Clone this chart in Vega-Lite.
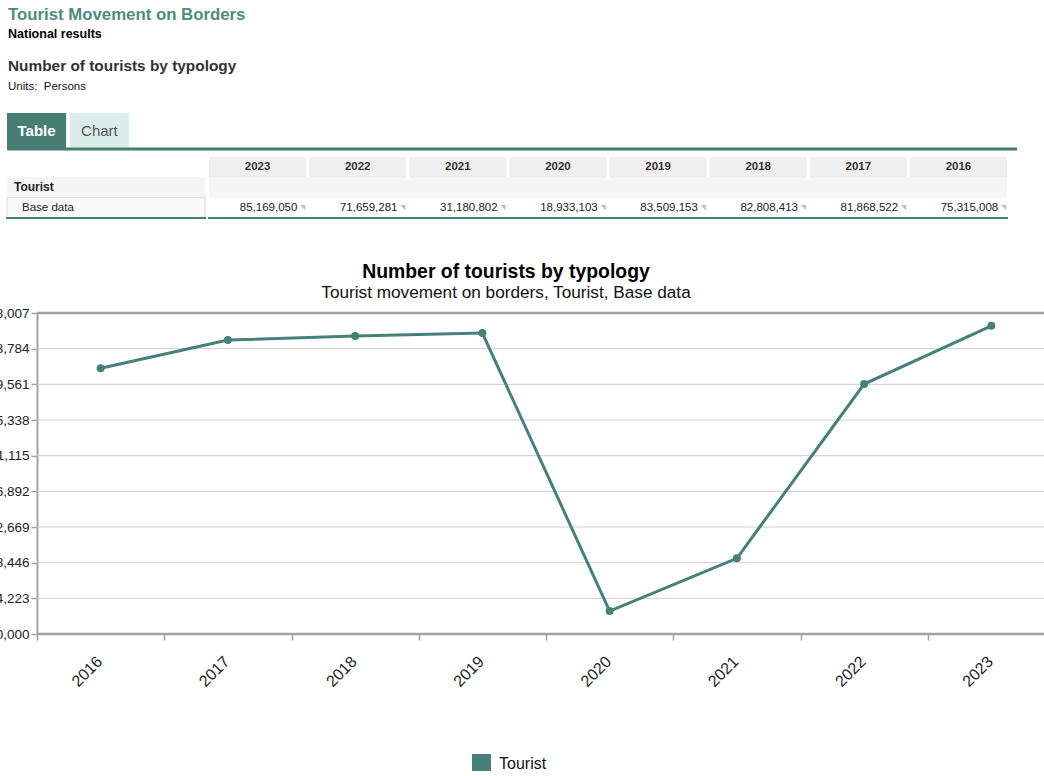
{
  "$schema": "https://vega.github.io/schema/vega-lite/v6.json",
  "background": "#ffffff",
  "padding": {"left": -39, "top": 6, "right": -11, "bottom": -2},
  "spacing": 6,
  "resolve": {"scale": {"color": "independent"}, "legend": {"color": "independent"}},
  "config": {
    "font": "Liberation Sans",
    "view": {"stroke": null},
    "axisY": {"labelOverlap": false}
  },
  "title": {
    "text": "Tourist Movement on Borders",
    "subtitle": "National results",
    "anchor": "start",
    "frame": "group",
    "dx": 1,
    "fontSize": 16.8,
    "fontWeight": "bold",
    "color": "#4d8c82",
    "subtitleFontSize": 12.5,
    "subtitleFontWeight": "bold",
    "subtitleColor": "#000000",
    "subtitlePadding": 4,
    "offset": 19
  },
  "datasets": {
    "tourists": [
      {"year": "2016", "series": "Tourist", "measure": "Base data", "persons": 75315008},
      {"year": "2017", "series": "Tourist", "measure": "Base data", "persons": 81868522},
      {"year": "2018", "series": "Tourist", "measure": "Base data", "persons": 82808413},
      {"year": "2019", "series": "Tourist", "measure": "Base data", "persons": 83509153},
      {"year": "2020", "series": "Tourist", "measure": "Base data", "persons": 18933103},
      {"year": "2021", "series": "Tourist", "measure": "Base data", "persons": 31180802},
      {"year": "2022", "series": "Tourist", "measure": "Base data", "persons": 71659281},
      {"year": "2023", "series": "Tourist", "measure": "Base data", "persons": 85169050}
    ],
    "tabs": [
      {"tab": "Table", "state": "active"},
      {"tab": "Chart", "state": "inactive"}
    ],
    "gridTicks": [
      {"tick": 13600000}, {"tick": 21884223}, {"tick": 30168446}, {"tick": 38452669},
      {"tick": 46736892}, {"tick": 55021115}, {"tick": 63305338}, {"tick": 71589561},
      {"tick": 79873784}, {"tick": 88158007}
    ]
  },
  "vconcat": [
    {
      "title": {
        "text": "Number of tourists by typology",
        "subtitle": "Units:\u00a0 Persons",
        "anchor": "start",
        "frame": "group",
        "dx": 1,
        "fontSize": 15.4,
        "fontWeight": "bold",
        "color": "#333333",
        "subtitleFontSize": 11.5,
        "subtitleColor": "#111111",
        "subtitlePadding": 6,
        "offset": 21
      },
      "width": 1010,
      "height": 36,
      "data": {"name": "tabs"},
      "encoding": {
        "x": {
          "field": "tab", "type": "nominal", "sort": null, "title": null,
          "scale": {"type": "band", "domain": ["Table", "Chart"], "rangeMax": 122, "paddingInner": 0.06, "paddingOuter": 0},
          "axis": null
        }
      },
      "layer": [
        {
          "transform": [{"filter": "datum.state === 'active'"}],
          "mark": {"type": "rect", "color": "#457d73"}
        },
        {
          "transform": [{"filter": "datum.state === 'inactive'"}],
          "mark": {"type": "rect", "color": "#dcecea"}
        },
        {
          "transform": [{"filter": "datum.state === 'active'"}],
          "mark": {"type": "text", "fontSize": 15, "fontWeight": "bold", "color": "#ffffff"},
          "encoding": {"text": {"field": "tab"}}
        },
        {
          "transform": [{"filter": "datum.state === 'inactive'"}],
          "mark": {"type": "text", "fontSize": 15, "color": "#555555"},
          "encoding": {"text": {"field": "tab"}}
        },
        {
          "transform": [{"filter": "datum.state === 'active'"}],
          "mark": {"type": "rule", "color": "#457d73", "strokeWidth": 3},
          "encoding": {
            "x": null,
            "y": {"datum": 0, "type": "quantitative", "scale": {"domain": [0, 1]}, "axis": null}
          }
        }
      ]
    },
    {
      "spacing": 0,
      "hconcat": [
        {
          "width": 198,
          "height": 99,
          "data": {"name": "tourists"},
          "transform": [{"aggregate": [{"op": "count", "as": "years"}], "groupby": ["series", "measure"]}],
          "layer": [
            {
              "mark": {"type": "rect", "color": "#f5f5f5"},
              "encoding": {
                "y": {
                  "datum": "group", "type": "nominal",
                  "scale": {"type": "band", "domain": ["header", "group", "item"], "paddingInner": 0, "paddingOuter": 0.935, "align": 0},
                  "axis": null
                }
              }
            },
            {
              "mark": {"type": "rect", "fill": "#fafafa", "stroke": "#d9d9d9", "strokeWidth": 1},
              "encoding": {"y": {"datum": "item", "type": "nominal"}}
            },
            {
              "mark": {"type": "text", "align": "left", "fontSize": 12, "fontWeight": "bold", "color": "#222222", "dx": 7},
              "encoding": {
                "x": {"datum": 0, "type": "quantitative", "scale": {"domain": [0, 1]}, "axis": null},
                "y": {"datum": "group", "type": "nominal"},
                "text": {"field": "series"}
              }
            },
            {
              "mark": {"type": "text", "align": "left", "fontSize": 11.5, "color": "#222222", "dx": 15},
              "encoding": {
                "x": {"datum": 0, "type": "quantitative"},
                "y": {"datum": "item", "type": "nominal"},
                "text": {"field": "measure"}
              }
            },
            {
              "mark": {"type": "rule", "color": "#457d73", "strokeWidth": 2, "strokeCap": "square"},
              "encoding": {"y": {"datum": "item", "type": "nominal", "bandPosition": 1}}
            }
          ]
        },
        {
          "width": 798,
          "height": 99,
          "data": {"name": "tourists"},
          "layer": [
            {
              "transform": [{"aggregate": [{"op": "count", "as": "years"}], "groupby": ["series"]}],
              "mark": {"type": "rect", "color": "#f5f5f5"},
              "encoding": {
                "y": {
                  "datum": "group", "type": "nominal",
                  "scale": {"type": "band", "domain": ["header", "group", "item"], "paddingInner": 0, "paddingOuter": 0.935, "align": 0},
                  "axis": null
                }
              }
            },
            {
              "mark": {"type": "rect", "color": "#efefef"},
              "encoding": {
                "x": {
                  "field": "year", "type": "ordinal", "sort": "descending",
                  "scale": {"type": "band", "paddingInner": 0.03, "paddingOuter": 0},
                  "axis": null
                },
                "y": {"datum": "header", "type": "nominal"}
              }
            },
            {
              "mark": {"type": "text", "fontSize": 11.5, "fontWeight": "bold", "color": "#333333"},
              "encoding": {
                "x": {"field": "year", "type": "ordinal", "sort": "descending"},
                "y": {"datum": "header", "type": "nominal"},
                "text": {"field": "year"}
              }
            },
            {
              "mark": {"type": "text", "align": "right", "fontSize": 11.5, "color": "#222222"},
              "encoding": {
                "x": {"field": "year", "type": "ordinal", "sort": "descending", "bandPosition": 0.91},
                "y": {"datum": "item", "type": "nominal"},
                "text": {"field": "persons", "type": "quantitative", "format": ","}
              }
            },
            {
              "mark": {"type": "point", "shape": "M -1 -1 L 1 -1 L 1 1 Z", "size": 30, "filled": true, "color": "#b3c2da", "opacity": 1, "dy": -5},
              "encoding": {
                "x": {"field": "year", "type": "ordinal", "sort": "descending", "bandPosition": 0.965},
                "y": {"datum": "item", "type": "nominal"}
              }
            },
            {
              "transform": [{"aggregate": [{"op": "count", "as": "years"}], "groupby": ["series"]}],
              "mark": {"type": "rule", "color": "#457d73", "strokeWidth": 2, "strokeCap": "square"},
              "encoding": {"y": {"datum": "item", "type": "nominal", "bandPosition": 1}}
            }
          ]
        }
      ]
    },
    {
      "width": 1048,
      "height": 321,
      "data": {"name": "tourists"},
      "title": {
        "text": "Number of tourists by typology",
        "subtitle": "Tourist movement on borders, Tourist, Base data",
        "anchor": "middle",
        "frame": "group",
        "dx": -25,
        "fontSize": 19.4,
        "fontWeight": "bold",
        "color": "#000000",
        "subtitleFontSize": 17.2,
        "subtitleColor": "#111111",
        "subtitlePadding": 1,
        "offset": 4
      },
      "encoding": {
        "x": {
          "field": "year", "type": "ordinal", "title": null,
          "scale": {"type": "band", "paddingInner": 0, "paddingOuter": 0.1179, "align": 1},
          "axis": {
            "title": null, "domain": false, "tickBand": "extent",
            "tickColor": "#a3a3a3", "tickSize": 6, "tickWidth": 1.5,
            "labelAngle": -45, "labelFontSize": 16, "labelColor": "#222222",
            "labelPadding": 13, "labelOffset": -7
          }
        }
      },
      "layer": [
        {
          "data": {"name": "gridTicks"},
          "mark": {"type": "rule", "color": "#cfcfcf", "strokeWidth": 1},
          "encoding": {
            "y": {
              "field": "tick", "type": "quantitative", "title": null,
              "scale": {"domain": [13600000, 88158007], "nice": false, "zero": false},
              "axis": {
                "title": null, "offset": -30, "grid": false, "format": ",d",
                "values": [13600000, 21884223, 30168446, 38452669, 46736892, 55021115, 63305338, 71589561, 79873784, 88158007],
                "domainColor": "#a3a3a3", "domainWidth": 2,
                "tickColor": "#a3a3a3", "tickSize": 6, "tickWidth": 1.5,
                "labelFontSize": 13.5, "labelColor": "#222222", "labelPadding": 2, "labelOverlap": false
              }
            },
            "x": {"datum": "2016", "type": "ordinal", "bandPosition": 0},
            "x2": {"datum": "2023", "bandPosition": 1}
          }
        },
        {
          "data": {"name": "gridTicks"},
          "transform": [{"filter": {"field": "tick", "oneOf": [13600000, 88158007]}}],
          "mark": {"type": "rule", "color": "#a3a3a3", "strokeWidth": 2.5},
          "encoding": {
            "y": {
              "field": "tick", "type": "quantitative", "title": null,
              "axis": {
                "title": null, "offset": -30, "grid": false, "format": ",d",
                "values": [13600000, 21884223, 30168446, 38452669, 46736892, 55021115, 63305338, 71589561, 79873784, 88158007],
                "domainColor": "#a3a3a3", "domainWidth": 2,
                "tickColor": "#a3a3a3", "tickSize": 6, "tickWidth": 1.5,
                "labelFontSize": 13.5, "labelColor": "#222222", "labelPadding": 2, "labelOverlap": false
              }
            },
            "x": {"datum": "2016", "type": "ordinal", "bandPosition": 0},
            "x2": {"datum": "2023", "bandPosition": 1}
          }
        },
        {
          "mark": {"type": "line", "strokeWidth": 3, "point": {"filled": true, "size": 64, "opacity": 1}},
          "encoding": {
            "y": {
              "field": "persons", "type": "quantitative", "title": null,
              "axis": {
                "title": null, "offset": -30, "grid": false, "format": ",d",
                "values": [13600000, 21884223, 30168446, 38452669, 46736892, 55021115, 63305338, 71589561, 79873784, 88158007],
                "domainColor": "#a3a3a3", "domainWidth": 2,
                "tickColor": "#a3a3a3", "tickSize": 6, "tickWidth": 1.5,
                "labelFontSize": 13.5, "labelColor": "#222222", "labelPadding": 2, "labelOverlap": false
              }
            },
            "color": {
              "field": "series", "type": "nominal", "title": null,
              "scale": {"range": ["#45807a"]},
              "legend": {
                "orient": "none", "legendX": 465, "legendY": 441,
                "symbolType": "square", "symbolSize": 361, "symbolStrokeWidth": 0,
                "symbolFillColor": "#45807a",
                "labelFontSize": 16, "labelColor": "#111111", "labelOffset": 8
              }
            }
          }
        }
      ]
    }
  ]
}
